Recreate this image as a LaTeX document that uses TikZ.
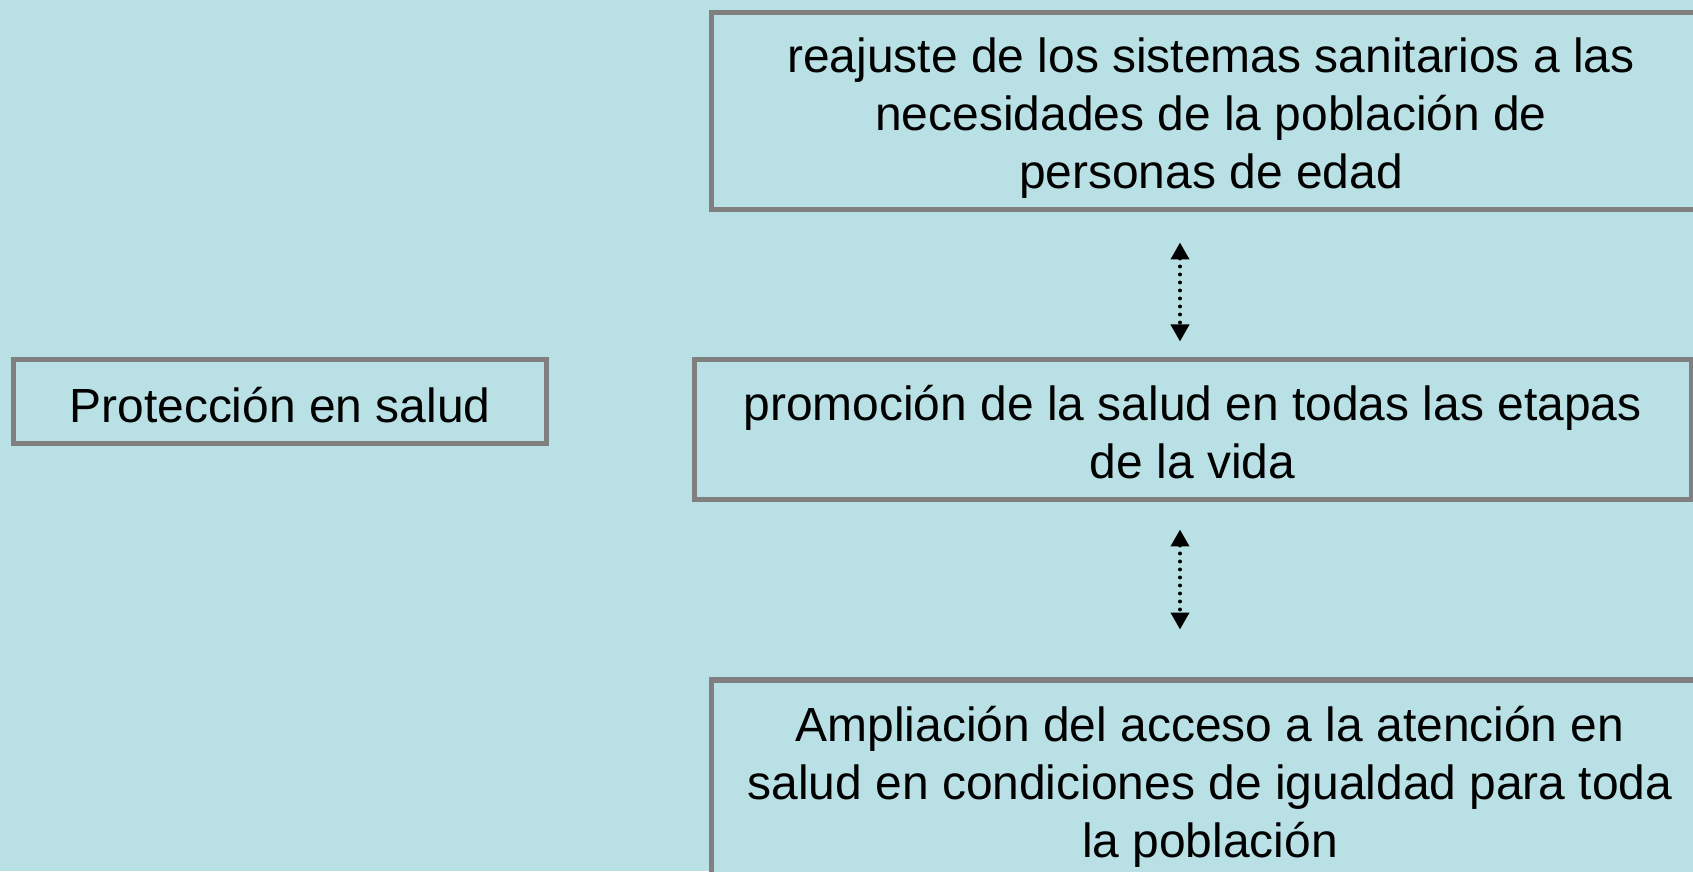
\documentclass[tikz,border=0pt]{standalone}
\usepackage{fontspec}
\setmainfont{Liberation Sans}
\usepackage{xcolor}
\usetikzlibrary{arrows.meta}
\definecolor{bgcyan}{RGB}{185,224,228}
\definecolor{boxgray}{RGB}{128,128,128}
\tikzset{
  box/.style={draw=boxgray, line width=0.05cm, fill=bgcyan, inner sep=0pt},
  boxtext/.style={align=center, inner sep=0pt, font=\fontsize{13.64}{16.5}\selectfont},
  link/.style={line width=0.04cm, dash pattern=on 0pt off 0.08cm, line cap=round,
    {Triangle[width=0.18cm,length=0.17cm]}-{Triangle[width=0.18cm,length=0.17cm]}}
}
\begin{document}
\begin{tikzpicture}
        % Background and frame
        \useasboundingbox (0,0) rectangle (16.93,8.71);
        \fill[bgcyan] (0,0) rectangle (16.93,8.71);
        \clip (0,0) rectangle (16.93,8.71);
        % Boxes
        \node[box, minimum width=5.32cm, minimum height=0.84cm] (prot) at (2.80,4.694) {};
        \node[box, minimum width=10.0cm, minimum height=1.975cm] (reaj) at (12.11,7.5975) {};
        \node[box, minimum width=9.97cm, minimum height=1.40cm] (prom) at (11.925,4.41) {};
        \node[box, minimum width=9.98cm, minimum height=1.95cm] (ampl) at (12.10,0.935) {};
        % Box texts
        \node[boxtext, yshift=-0.03cm] (prottext) at (prot.center) {Protección en salud};
        \node[boxtext, yshift=-0.07cm] (reajtext) at (reaj.center)
            {reajuste de los sistemas sanitarios a las\\ necesidades de la población de\\ personas de edad};
        \node[boxtext, yshift=-0.025cm] (promtext) at (prom.center)
            {promoción de la salud en todas las etapas\\ de la vida};
        \node[boxtext, yshift=-0.09cm] (ampltext) at (ampl.center)
            {Ampliación del acceso a la atención en\\ salud en condiciones de igualdad para toda\\ la población};
        % Dotted double arrows
        \coordinate (ax) at (11.80,0);
        \draw[link, shorten <=0.30cm, shorten >=0.16cm] (reaj.south -| ax) -- (prom.north -| ax);
        \draw[link, shorten <=0.27cm, shorten >=0.48cm] (prom.south -| ax) -- (ampl.north -| ax);
    \end{tikzpicture}
\end{document}
